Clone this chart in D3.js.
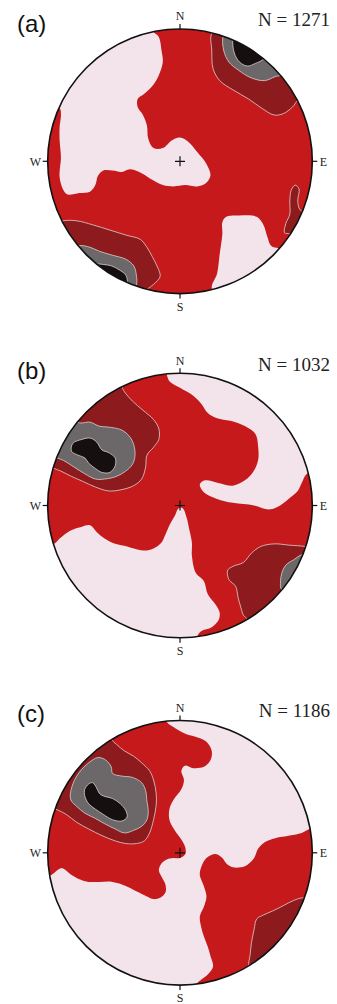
<!DOCTYPE html>
<html>
<head>
<meta charset="utf-8">
<script src="https://cdn.jsdelivr.net/npm/d3@7"></script>
<style>
  html, body { margin: 0; padding: 0; background: #fff; }
  svg { display: block; }
</style>
</head>
<body>
<svg id="chart" width="337" height="1004"></svg>
<script>
// panel data
const panelNames = ["(a)", "(b)", "(c)"];
const sampleCounts = [1271, 1032, 1186];
const directions = ["N", "E", "S", "W"];

// density classes, lowest to highest
const levelNames = ["low", "medium", "high", "higher", "peak"];
const levelColors = ["#f3e3eb", "#c5191b", "#8d1b1d", "#6c6768", "#150f10"];

// contour outlines, x east / y north in % of the net radius
// (points beyond 100 lie outside the net and are clipped away)
const a_low_west = [[-21,99],[-16,94],[-14,84],[-13,75],[-16,65],[-20,58],[-27,51],[-32,47],[-32,41],[-28,35],[-25,27],[-24,17],[-20,10],[-13,10],[-6,16],[0,18],[6,15],[13,7],[20,-2],[23,-11],[19,-17],[13,-19],[4,-18],[-5,-19],[-13,-18],[-21,-14],[-29,-9],[-38,-6],[-44,-8],[-51,-7],[-58,-7],[-62,-11],[-64,-18],[-68,-23],[-76,-24],[-85,-25],[-88,-22],[-91,-12],[-90,3],[-91,16],[-91,26],[-90,35],[-91,40],[-112,40],[-112,112],[-22,112]];
const a_low_se = [[24,-96],[28,-85],[30,-70],[32,-55],[32,-46],[35,-42],[45,-41],[58,-42],[63,-48],[66,-57],[69,-64],[75,-66],[100,-80],[35,-115]];
const a_high_ne = [[24,97],[24,84],[25,70],[30,61],[40,54],[52,47],[62,40],[71,35],[78,36],[85,41],[89,46],[110,60],[40,115]];
const a_higher_ne = [[33,96],[33,84],[37,75],[44,69],[54,63],[64,61],[72,64],[76,65],[95,78],[45,110]];
const a_peak_ne = [[40,93],[41,82],[45,75],[51,72],[57,74],[63,77],[78,90],[45,108]];
const a_high_e = [[87,-18],[90,-21],[89,-30],[91,-37],[106,-45],[97,-68],[83,-55],[79,-54],[80,-47],[83,-40],[83,-30],[84,-22]];
const a_high_sw = [[-89,-45],[-78,-45],[-66,-48],[-53,-52],[-40,-56],[-30,-59],[-25,-65],[-21,-72],[-17,-80],[-15,-87],[-20,-93],[-25,-97],[-38,-112],[-112,-52]];
const a_higher_sw = [[-77,-64],[-68,-65],[-61,-68],[-51,-71],[-41,-74],[-35,-79],[-33,-86],[-33,-94],[-42,-110],[-92,-76]];
const a_peak_sw = [[-63,-78],[-58,-78],[-52,-79],[-46,-82],[-41,-86],[-40,-92],[-50,-106],[-78,-92]];

const b_low_ne = [[-10,99],[-8,94],[0,89],[10,83],[16,77],[21,70],[28,66],[38,64],[49,60],[57,54],[59,45],[59,34],[55,25],[49,19],[40,15],[29,17],[19,19],[15,16],[18,10],[28,5],[40,2],[56,0],[67,-3],[74,-1],[82,5],[89,11],[92,17],[96,24],[115,30],[90,80],[40,112],[-12,112]];
const b_low_sw = [[-95,-29],[-91,-25],[-83,-19],[-74,-16],[-68,-15],[-63,-20],[-57,-25],[-49,-29],[-40,-31],[-33,-33],[-25,-34],[-19,-32],[-14,-28],[-11,-22],[-8,-15],[-4,-8],[-1,-2],[2,-2],[5,-9],[7,-18],[9,-28],[9,-38],[12,-51],[18,-57],[21,-67],[27,-75],[30,-81],[29,-87],[24,-92],[16,-95],[13,-99],[10,-115],[-85,-95],[-112,-35]];
const b_high_nw = [[-44,90],[-42,86],[-36,79],[-28,72],[-20,65],[-16,58],[-16,50],[-20,44],[-25,38],[-26,29],[-29,20],[-35,15],[-44,12],[-54,11],[-64,14],[-73,18],[-82,22],[-90,26],[-95,28],[-115,40],[-95,80],[-50,110]];
const b_higher_nw = [[-77,63],[-68,63],[-61,60],[-52,59],[-44,57],[-38,52],[-35,46],[-34,38],[-36,31],[-41,26],[-48,22],[-57,20],[-64,20],[-72,24],[-80,29],[-88,34],[-93,36],[-115,45],[-85,85]];
const b_peak_nw = [[-81,47],[-74,50],[-68,51],[-63,48],[-59,42],[-54,40],[-49,36],[-49,30],[-53,25],[-59,25],[-64,28],[-69,32],[-72,36],[-77,38],[-82,41]];
const b_high_se = [[95,-31],[83,-30],[71,-29],[61,-31],[54,-36],[48,-43],[40,-46],[36,-49],[37,-56],[42,-61],[44,-70],[46,-77],[48,-83],[51,-86],[60,-110],[100,-85],[115,-35]];
const b_higher_se = [[93,-37],[86,-41],[80,-45],[77,-51],[76,-57],[77,-64],[95,-72],[112,-40]];

const c_med_nw = [[-10,99],[-5,95],[4,90],[14,87],[20,84],[24,77],[23,70],[18,65],[10,64],[4,66],[1,62],[3,55],[1,48],[-5,40],[-8,33],[-8,25],[-4,17],[1,10],[4,4],[4,-1],[0,-4],[-5,-4],[-10,-5],[-14,-8],[-16,-13],[-14,-18],[-11,-24],[-11,-30],[-15,-34],[-20,-35],[-25,-33],[-33,-29],[-41,-25],[-51,-22],[-61,-22],[-69,-22],[-76,-20],[-83,-16],[-88,-12],[-91,-12],[-98,-17],[-115,-20],[-115,60],[-60,105],[-12,115]];
const c_med_se = [[98,18],[92,15],[83,13],[72,11],[64,8],[59,3],[56,-4],[51,-9],[46,-11],[40,-11],[35,-8],[32,-4],[27,-1],[20,-4],[16,-11],[15,-17],[18,-25],[20,-33],[18,-41],[15,-48],[16,-56],[18,-63],[21,-71],[23,-78],[25,-86],[21,-92],[16,-96],[13,-99],[20,-115],[95,-80],[118,-10],[115,20]];
const c_high_se = [[94,-34],[86,-36],[78,-40],[70,-44],[63,-47],[58,-50],[56,-58],[54,-68],[53,-77],[52,-86],[60,-110],[100,-85],[115,-40]];
const c_high_nw = [[-52,86],[-48,82],[-42,77],[-35,73],[-29,68],[-23,62],[-20,55],[-18,45],[-18,36],[-20,25],[-23,15],[-27,9],[-33,7],[-41,7],[-49,9],[-59,13],[-69,18],[-78,23],[-86,29],[-94,33],[-115,40],[-95,85],[-60,110]];
const c_higher_nw = [[-83,43],[-81,52],[-76,61],[-69,68],[-62,72],[-56,70],[-52,65],[-51,60],[-44,58],[-36,57],[-29,53],[-26,47],[-25,39],[-24,32],[-25,25],[-29,20],[-35,17],[-42,15],[-49,18],[-57,22],[-64,26],[-72,30],[-78,35],[-82,39]];
const c_peak_nw = [[-72,48],[-69,52],[-66,53],[-63,49],[-61,45],[-58,43],[-51,41],[-45,37],[-41,32],[-40,27],[-44,24],[-51,25],[-58,29],[-64,33],[-69,37],[-72,43]];

const panelBase = ["medium", "medium", "low"];
const panelRegions = [
  [["low", a_low_west], ["low", a_low_se], ["high", a_high_ne], ["higher", a_higher_ne], ["peak", a_peak_ne],
   ["high", a_high_e], ["high", a_high_sw], ["higher", a_higher_sw], ["peak", a_peak_sw]],
  [["low", b_low_ne], ["low", b_low_sw], ["high", b_high_nw], ["higher", b_higher_nw], ["peak", b_peak_nw],
   ["high", b_high_se], ["higher", b_higher_se]],
  [["medium", c_med_nw], ["medium", c_med_se], ["high", c_high_se], ["high", c_high_nw], ["higher", c_higher_nw], ["peak", c_peak_nw]]
];

// layout
const W = 337, H = 1004;
const R = 132.3;
const centers = [[180, 161.3], [180, 505.5], [180, 852.8]];
const tagBaseline = [31.5, 379, 722];
const countBaseline = [25.7, 370.7, 717.3];

const svg = d3.select("#chart");
const color = d3.scaleOrdinal().domain(levelNames).range(levelColors);

panelNames.forEach((name, i) => {
  const [cx, cy] = centers[i];
  const x = d3.scaleLinear().domain([-100, 100]).range([cx - R, cx + R]);
  const y = d3.scaleLinear().domain([-100, 100]).range([cy + R, cy - R]);
  const g = svg.append("g");

  g.append("clipPath").attr("id", "net" + i)
    .append("circle").attr("cx", cx).attr("cy", cy).attr("r", R);

  const line = d3.line()
    .x(d => x(d[0])).y(d => y(d[1]))
    .curve(d3.curveCatmullRomClosed.alpha(0.5));

  const inner = g.append("g").attr("clip-path", "url(#net" + i + ")");
  inner.append("circle").attr("cx", cx).attr("cy", cy).attr("r", R)
    .attr("fill", color(panelBase[i]));

  inner.selectAll("path")
    .data(panelRegions[i])
    .join("path")
      .attr("d", d => line(d[1]))
      .attr("fill", d => color(d[0]))
      .attr("stroke", d => levelNames.indexOf(d[0]) >= 2 ? "#dcd2d2" : "none")
      .attr("stroke-width", 0.8);

  // primitive circle
  g.append("circle").attr("cx", cx).attr("cy", cy).attr("r", R)
    .attr("fill", "none").attr("stroke", "#111").attr("stroke-width", 1.6);

  // centre cross
  g.append("path")
    .attr("d", `M${cx - 5},${cy}H${cx + 5}M${cx},${cy - 5}V${cy + 5}`)
    .attr("stroke", "#111").attr("stroke-width", 1.2);

  // direction ticks and labels
  const ang = { N: -90, E: 0, S: 90, W: 180 };
  directions.forEach(dir => {
    const a = ang[dir] * Math.PI / 180;
    g.append("line")
      .attr("x1", cx + R * Math.cos(a)).attr("y1", cy + R * Math.sin(a))
      .attr("x2", cx + (R + 5) * Math.cos(a)).attr("y2", cy + (R + 5) * Math.sin(a))
      .attr("stroke", "#111").attr("stroke-width", 1.2);
    const t = g.append("text")
      .attr("font-family", "'Liberation Serif', 'Times New Roman', serif")
      .attr("font-size", 12).attr("fill", "#222").text(dir);
    if (dir === "N") t.attr("x", cx).attr("y", cy - R - 8.6).attr("text-anchor", "middle");
    if (dir === "S") t.attr("x", cx).attr("y", Math.min(cy + R + 17, H - 2.5)).attr("text-anchor", "middle");
    if (dir === "E") t.attr("x", cx + R + 7.5).attr("y", cy + 4.2).attr("text-anchor", "start");
    if (dir === "W") t.attr("x", cx - R - 6.5).attr("y", cy + 4.2).attr("text-anchor", "end");
  });

  svg.append("text")
    .attr("x", 17).attr("y", tagBaseline[i])
    .attr("font-family", "'Liberation Sans', Arial, sans-serif")
    .attr("font-size", 24).attr("fill", "#111")
    .text(name);

  svg.append("text")
    .attr("x", 330).attr("y", countBaseline[i])
    .attr("text-anchor", "end")
    .attr("font-family", "'Liberation Serif', 'Times New Roman', serif")
    .attr("font-size", 19).attr("fill", "#222")
    .text("N = " + sampleCounts[i]);
});
</script>
</body>
</html>
